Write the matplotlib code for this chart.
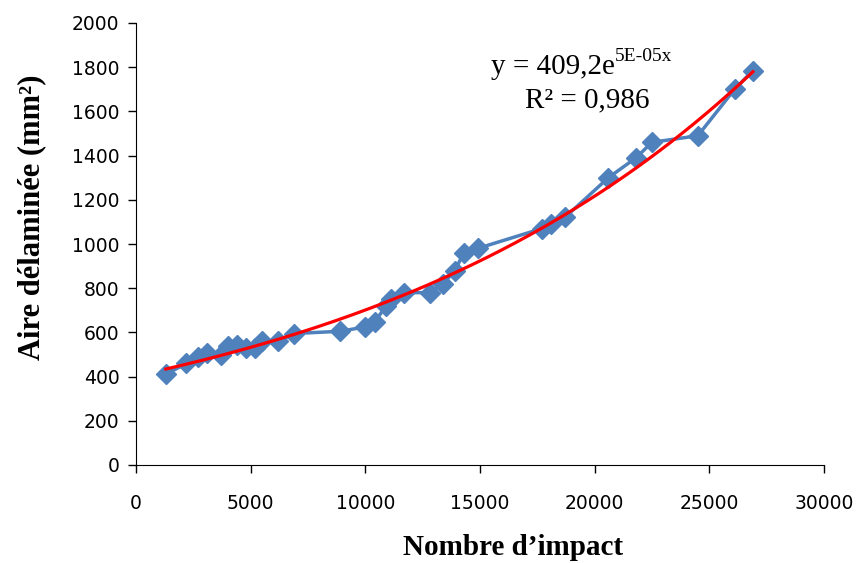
import numpy as np
import matplotlib
matplotlib.use('Agg')
import matplotlib.pyplot as plt

# nombre d'impact / aire delaminee (mm2)
impacts = [1300, 2200, 2700, 3100, 3700, 4000, 4400, 4800, 5200, 5500, 6200, 6900,
           8900, 10000, 10400, 10900, 11100, 11700, 12800, 13400, 13900, 14300, 14900,
           17700, 18100, 18700, 20600, 21800, 22500, 24500, 26100, 26900]
aire = [410, 460, 490, 505, 500, 540, 545, 530, 530, 560, 560, 595,
        605, 625, 645, 720, 750, 780, 780, 820, 880, 960, 980,
        1070, 1090, 1120, 1300, 1390, 1460, 1490, 1700, 1785]

x_ticks = [0, 5000, 10000, 15000, 20000, 25000, 30000]
y_ticks = [0, 200, 400, 600, 800, 1000, 1200, 1400, 1600, 1800, 2000]

# exponential trend (same as excel: fit on ln(y))
k, lna = np.polyfit(impacts, np.log(aire), 1)
xt = np.linspace(min(impacts), max(impacts), 200)
yt = np.exp(lna) * np.exp(k * xt)

fig = plt.figure(figsize=(8.6, 5.63), dpi=100)
ax = fig.add_axes([136/860, 1-465/563, 688/860, 442/563])

ax.plot(impacts, aire, color='#4F81BD', lw=2.5, marker='D', ms=10, zorder=2)
ax.plot(xt, yt, color='#FF0000', lw=2.3, zorder=3)

ax.set_xlim(0, 30000)
ax.set_ylim(0, 2000)
ax.set_xticks(x_ticks)
ax.set_yticks(y_ticks)
ax.tick_params(axis='both', direction='out', length=6, width=1, labelsize=13.5)
ax.tick_params(axis='x', pad=15)
ax.tick_params(axis='y', pad=6)
for s in ['top', 'right']:
    ax.spines[s].set_visible(False)

ax.set_xlabel('Nombre d\u2019impact', family='Liberation Serif', fontweight='bold', fontsize=21, va='center')
ax.set_ylabel('Aire délaminée (mm²)', family='Liberation Serif', fontweight='bold', fontsize=22)
ax.xaxis.set_label_coords(0.548, -0.186)
ax.yaxis.set_label_coords(-0.13, 0.561)

# equation
ax.text(20900, 1800, 'y = 409,2e', family='Liberation Serif', fontsize=21, ha='right', va='center')
ax.text(20900, 1850, '5E-05x', family='Liberation Serif', fontsize=14, ha='left', va='center')
ax.text(19670, 1650, 'R² = 0,986', family='Liberation Serif', fontsize=21, ha='center', va='center')

plt.savefig('out.png', dpi=100)
